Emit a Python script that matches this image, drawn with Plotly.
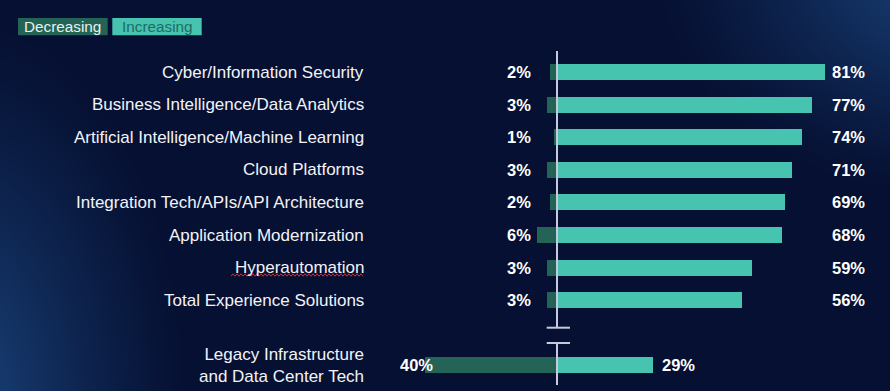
import base64
import struct
import zlib

import numpy as np
import plotly.graph_objects as go

# ---------------- data ----------------
categories = [
    "Cyber/Information Security",
    "Business Intelligence/Data Analytics",
    "Artificial Intelligence/Machine Learning",
    "Cloud Platforms",
    "Integration Tech/APIs/API Architecture",
    "Application Modernization",
    "Hyperautomation",
    "Total Experience Solutions",
    "Legacy Infrastructure<br>and Data Center Tech",
]
decreasing = [2, 3, 1, 3, 2, 6, 3, 3, 40]
increasing = [81, 77, 74, 71, 69, 68, 59, 56, 29]
legend_labels = ["Decreasing", "Increasing"]

# ---------------- style ----------------
W, H = 890, 391
DEC_COLOR = "#246456"
INC_COLOR = "#47c4b0"
AXIS_COLOR = "#c6cadc"
TEXT_COLOR = "#f2f3f8"
FONT = "Liberation Sans, Arial, sans-serif"

# pixel <-> data mapping helpers (layout only)
X0_PX, PX_PER_UNIT = 557.0, 3.31
Y0_PX, PX_PER_ROW = 72.0, 32.6


def xv(px):
    return (px - X0_PX) / PX_PER_UNIT


def yv(py):
    return (py - Y0_PX) / PX_PER_ROW


# rows: main group then a gap before the last category
n = len(categories)
ypos = list(range(n - 1)) + [n]

# ---------------- background gradient image ----------------
def make_bg():
    yy, xx = np.mgrid[0:H, 0:W].astype(float)
    base = np.array([6, 16, 50], float)
    glow = np.array([26, 68, 124], float)
    d1 = np.sqrt(((xx + 40) / 230.0) ** 2 + ((yy - 400) / 390.0) ** 2)
    f1 = np.clip(1 - d1, 0, 1) ** 1.2
    d2 = np.sqrt(((xx - 950) / 300.0) ** 2 + ((yy + 30) / 230.0) ** 2)
    f2 = np.clip(1 - d2, 0, 1) ** 1.2
    f = np.clip(f1 + f2, 0, 1)[..., None]
    img = (base + (glow - base) * f).clip(0, 255).astype(np.uint8)
    raw = b"".join(b"\x00" + row.tobytes() for row in img)

    def chunk(tag, data):
        c = struct.pack(">I", len(data)) + tag + data
        return c + struct.pack(">I", zlib.crc32(tag + data) & 0xFFFFFFFF)

    png = b"\x89PNG\r\n\x1a\n"
    png += chunk(b"IHDR", struct.pack(">IIBBBBB", W, H, 8, 2, 0, 0, 0))
    png += chunk(b"IDAT", zlib.compress(raw, 9))
    png += chunk(b"IEND", b"")
    return "data:image/png;base64," + base64.b64encode(png).decode()


fig = go.Figure()
fig.add_trace(go.Bar(
    y=ypos, x=[-v for v in decreasing], orientation="h",
    marker=dict(color=DEC_COLOR, line=dict(width=0)), width=0.49,
    hoverinfo="skip", showlegend=False,
))
fig.add_trace(go.Bar(
    y=ypos, x=increasing, orientation="h",
    marker=dict(color=INC_COLOR, line=dict(width=0)), width=0.49,
    hoverinfo="skip", showlegend=False,
))

annotations = []
last = n - 1
for i, (cat, d, inc, y) in enumerate(zip(categories, decreasing, increasing, ypos)):
    annotations.append(dict(
        x=xv(365), y=y, xref="x", yref="y", text=cat, showarrow=False,
        xanchor="right", yanchor="middle", align="right", borderpad=0,
        font=dict(family=FONT, size=17, color=TEXT_COLOR),
    ))
    if i == last:
        dx, ix = -d + 2.8, inc + 2.3
    else:
        dx, ix = xv(532), xv(831)
    annotations.append(dict(
        x=dx, y=y, xref="x", yref="y", text=f"{d}%", showarrow=False,
        xanchor="right", yanchor="middle", borderpad=0,
        font=dict(family=FONT, size=16.5, color="#ffffff", weight="bold"),
    ))
    annotations.append(dict(
        x=ix, y=y, xref="x", yref="y", text=f"{inc}%", showarrow=False,
        xanchor="left", yanchor="middle", borderpad=0,
        font=dict(family=FONT, size=16.5, color="#ffffff", weight="bold"),
    ))

# legend boxes
shapes = []
leg_boxes = [(18, 107.7, DEC_COLOR, "#e9f1f0"), (112.3, 201.7, INC_COLOR, "#1d6d63")]
for label, (bx0, bx1, bcol, tcol) in zip(legend_labels, leg_boxes):
    shapes.append(dict(
        type="rect", xref="paper", yref="paper",
        x0=bx0 / W, x1=bx1 / W, y0=1 - 35.3 / H, y1=1 - 18 / H,
        fillcolor=bcol, line=dict(width=0), layer="above",
    ))
    annotations.append(dict(
        x=(bx0 + bx1) / 2 / W, y=1 - 26.8 / H, xref="paper", yref="paper",
        text=label, showarrow=False, xanchor="center", yanchor="middle",
        borderpad=0, font=dict(family=FONT, size=15.3, color=tcol),
    ))

# zero axis line with break marks
axis_line = dict(color=AXIS_COLOR, width=2)
shapes.append(dict(type="line", xref="x", yref="y", x0=0, x1=0,
                   y0=yv(51), y1=yv(327.7), line=axis_line))
shapes.append(dict(type="line", xref="x", yref="y", x0=0, x1=0,
                   y0=yv(343), y1=yv(385), line=axis_line))
for py in (327.7, 343):
    shapes.append(dict(type="line", xref="x", yref="y", x0=xv(546.7), x1=xv(570),
                       y0=yv(py), y1=yv(py), line=axis_line))

# spell-check squiggle under "Hyperautomation"
sx0, sx1, sy = 231, 363, 275
pts = []
k = 0
px = sx0
while px <= sx1:
    py = sy + (-1.2 if k % 2 else 1.2)
    pts.append(f"{px / W:.5f},{1 - py / H:.5f}")
    px += 2
    k += 1
shapes.append(dict(type="path", xref="paper", yref="paper",
                   path="M" + " L".join(pts), line=dict(color="#c4343a", width=1)))

fig.update_layout(
    width=W, height=H,
    margin=dict(l=0, r=0, t=0, b=0, pad=0),
    paper_bgcolor="#06102f", plot_bgcolor="rgba(0,0,0,0)",
    barmode="overlay", bargap=0,
    xaxis=dict(range=[xv(0), xv(W)], visible=False, fixedrange=True),
    yaxis=dict(range=[yv(H), yv(0)], visible=False, fixedrange=True),
    annotations=annotations, shapes=shapes,
    images=[dict(source=make_bg(), xref="paper", yref="paper", x=0, y=1,
                 sizex=1, sizey=1, sizing="stretch", layer="below")],
    showlegend=False,
)

fig.write_html(
    "out.html",
    config={"displayModeBar": False},
    post_script="document.body.style.margin='0';document.body.style.overflow='hidden';",
)
